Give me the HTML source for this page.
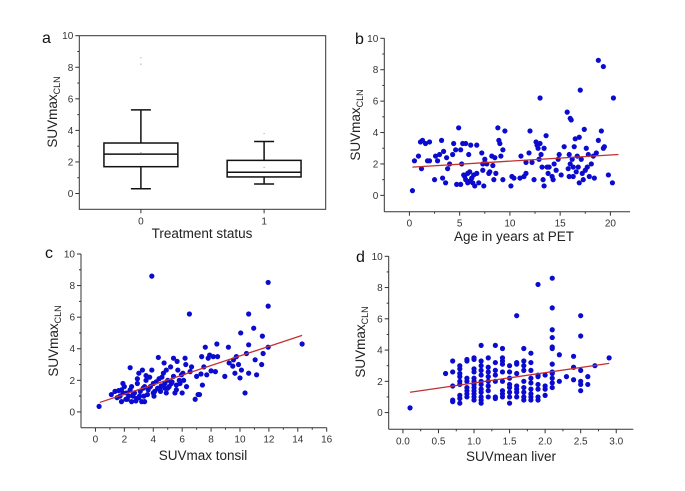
<!DOCTYPE html>
<html><head><meta charset="utf-8">
<style>
html,body{margin:0;padding:0;background:#fff;}
svg{display:block;font-family:"Liberation Sans",Arial,sans-serif;}
</style></head>
<body>
<svg id="fig" width="685" height="491" viewBox="0 0 685 491" xmlns="http://www.w3.org/2000/svg"></svg>
<script>
// ---- Panel a: box plot data ----
const boxCategories = ["0", "1"];
const boxQ1 = [1.7, 1.05];
const boxMedian = [2.5, 1.35];
const boxQ3 = [3.2, 2.1];
const boxWhiskerLow = [0.3, 0.6];
const boxWhiskerHigh = [5.3, 3.3];
const boxMean = [2.6, 1.65];
const boxOutliers = [[8.2, 8.6], [3.8]];

// ---- Panel b: age vs SUVmax CLN ----
const ageX = [0.3,0.5,0.9,1.1,1.3,1.2,1.6,1.8,2.0,2.0,2.5,2.6,3.0,3.2,3.3,3.4,3.6,3.7,3.8,4.0,4.3,4.4,4.6,4.7,4.9,5.1,5.2,5.1,5.3,5.6,5.4,5.6,5.8,5.8,5.9,6.0,6.2,6.1,6.3,6.5,6.7,6.7,6.9,7.2,7.3,7.3,7.4,7.5,7.7,7.9,8.2,8.3,8.4,8.5,8.6,8.8,8.9,9.0,9.1,9.3,9.3,9.5,10.1,10.2,10.4,11.0,11.1,11.4,11.6,11.6,12.0,11.9,12.2,12.4,12.6,12.7,12.8,13.0,12.9,13.1,13.2,13.3,13.4,13.4,13.6,13.7,13.8,13.9,14.2,14.3,14.4,14.6,14.8,14.9,15.1,15.4,15.7,15.8,15.9,15.9,16.0,16.1,16.2,16.3,16.3,16.4,16.5,16.7,16.8,16.9,16.9,17.0,17.1,17.2,17.3,17.4,17.6,17.7,17.8,17.9,18.1,18.3,18.4,18.6,18.8,18.8,19.1,19.3,19.3,19.4,19.8,20.2,20.3,5.5,6.0,6.4,16.0,16.6,17.5,13.0,8.0,2.8];
const ageY = [0.3,2.2,2.5,3.4,3.5,1.7,3.3,2.2,3.4,2.2,1.0,2.5,2.6,3.5,1.1,2.8,0.8,2.4,1.7,2.0,2.6,3.3,2.9,0.7,4.3,0.7,2.0,2.9,3.3,3.3,1.3,1.0,1.4,0.8,2.6,1.5,1.1,3.2,0.8,0.6,3.2,1.4,0.8,2.7,2.0,1.6,0.6,2.3,2.0,1.4,2.5,1.9,1.0,2.4,1.4,4.3,3.5,3.3,2.5,2.9,1.0,4.1,0.6,1.2,1.1,1.1,2.5,1.2,1.4,2.1,4.1,2.7,2.1,1.0,3.4,3.2,3.0,6.2,2.3,2.6,1.8,1.0,0.6,3.0,3.8,1.8,1.4,1.8,1.2,1.0,2.0,1.6,2.3,2.6,1.3,3.1,5.3,1.7,2.6,1.2,4.9,4.8,2.3,1.8,1.2,3.1,3.6,2.5,1.8,0.8,3.7,6.7,2.3,1.4,1.0,4.2,3.0,1.8,2.6,1.2,2.0,2.5,1.1,2.7,8.6,3.5,4.1,8.2,3.0,3.1,1.3,0.8,6.2,1.2,0.9,1.3,2.0,1.5,1.6,3.3,1.5,2.2];
const ageFit = [[0.3, 1.8], [20.8, 2.6]];

// ---- Panel c: SUVmax tonsil ----
const tonsilX = [0.25,1.1,1.35,1.6,1.7,1.8,1.9,2.0,2.15,2.2,2.4,2.4,2.5,2.6,2.7,2.85,2.9,3.0,3.05,3.2,3.25,3.35,3.4,3.5,3.65,3.75,3.9,3.9,4.0,4.05,4.1,4.2,4.35,4.4,4.45,4.55,4.7,4.75,4.8,4.9,4.9,5.0,5.1,5.2,5.25,5.4,5.4,5.5,5.6,5.65,5.7,5.85,5.95,6.0,6.05,6.2,6.25,6.3,6.5,6.55,6.65,6.9,7.0,7.1,7.2,7.35,7.4,7.5,7.6,7.7,7.8,7.9,8.15,8.3,8.4,8.45,8.95,9.2,9.25,9.55,9.65,9.75,9.9,10.0,10.05,10.1,10.35,10.45,10.6,10.6,10.6,10.95,11.05,11.15,11.5,11.55,11.6,11.95,11.95,11.95,14.3,1.5,1.9,2.3,2.5,2.8,3.1,3.3,3.6,3.8,4.3,4.6,5.3,5.8,1.8,2.1,2.6,3.0,3.4,4.0,4.8,5.6,6.1,2.9,3.5,4.5,5.0,7.3,8.0,9.5];
const tonsilY = [0.35,1.1,1.3,1.35,1.0,0.65,1.8,1.6,1.2,0.8,2.8,1.4,0.65,1.0,1.2,0.85,1.8,2.45,1.0,0.65,2.65,1.0,0.65,2.0,1.4,2.2,8.6,2.65,1.8,1.0,1.3,1.9,3.45,2.1,1.4,1.65,2.45,3.1,1.8,1.2,2.65,2.0,1.6,2.85,1.8,2.25,3.4,1.2,1.4,3.2,2.65,1.8,2.35,1.2,2.45,3.4,3.0,1.6,6.2,2.55,2.85,0.8,2.25,1.1,1.1,3.5,1.7,2.85,4.1,2.35,3.4,3.6,3.5,2.55,4.3,3.5,2.25,4.1,3.1,3.3,2.45,3.5,3.0,2.15,5.0,2.65,1.2,3.7,6.2,4.25,2.45,5.3,3.3,2.35,3.0,4.8,3.7,8.2,6.7,4.1,4.3,0.9,1.2,1.0,1.6,0.7,1.3,1.5,1.1,1.6,1.5,2.2,1.9,2.0,1.4,0.8,1.1,0.9,1.6,1.2,1.5,1.7,2.0,2.1,2.3,1.3,1.5,2.4,2.6,2.9,2.6];
const tonsilFit = [[0.3, 0.6], [14.3, 4.85]];

// ---- Panel d: SUVmean liver ----
const liverX = [0.1,0.6,0.7,0.7,0.7,0.7,0.7,0.8,0.8,0.8,0.8,0.8,0.8,0.8,0.8,0.8,0.9,0.9,0.9,0.9,0.9,0.9,0.9,0.9,1.0,1.0,1.0,1.0,1.0,1.0,1.0,1.0,1.0,1.0,1.0,1.0,1.1,1.1,1.1,1.1,1.1,1.1,1.1,1.1,1.1,1.1,1.1,1.1,1.2,1.2,1.2,1.2,1.2,1.2,1.2,1.2,1.3,1.3,1.3,1.3,1.3,1.3,1.3,1.4,1.4,1.4,1.4,1.4,1.4,1.4,1.4,1.4,1.5,1.5,1.5,1.5,1.5,1.5,1.5,1.5,1.6,1.6,1.6,1.6,1.6,1.6,1.6,1.6,1.7,1.7,1.7,1.7,1.7,1.7,1.7,1.7,1.7,1.8,1.8,1.8,1.8,1.8,1.8,1.8,1.8,1.8,1.9,1.9,1.9,1.9,1.9,1.9,1.9,2.0,2.0,2.0,2.0,2.1,2.1,2.1,2.1,2.1,2.1,2.1,2.1,2.1,2.1,2.1,2.1,2.2,2.2,2.3,2.4,2.4,2.4,2.5,2.5,2.5,2.5,2.5,2.5,2.6,2.6,2.7,2.9];
const liverY = [0.3,2.5,3.3,2.6,1.7,0.8,0.7,3.0,2.8,2.5,2.3,2.0,1.8,1.1,0.9,0.6,3.4,3.3,2.2,2.0,1.6,1.4,1.2,1.0,3.5,3.4,2.8,2.6,2.2,2.0,1.8,1.6,1.4,1.2,1.0,0.8,4.3,3.3,3.0,2.7,2.4,2.0,1.8,1.5,1.3,1.0,0.8,0.6,3.5,2.9,2.6,2.3,2.0,1.7,1.4,1.0,4.3,3.2,2.7,2.4,2.0,1.0,0.9,4.1,3.5,3.3,3.1,2.6,2.0,1.4,1.2,1.0,3.0,2.6,2.2,1.8,1.6,1.3,1.0,0.6,6.2,3.2,3.1,2.5,1.7,1.5,1.3,1.0,4.1,3.3,3.0,2.7,2.0,1.6,1.3,1.0,0.8,3.8,3.2,2.7,2.2,1.9,1.5,1.2,1.0,0.8,8.2,2.4,2.3,1.8,1.5,1.0,0.8,2.4,1.7,1.5,1.1,8.6,6.7,5.3,4.8,4.2,4.1,3.1,2.6,2.5,2.2,1.9,1.6,3.7,2.0,2.3,3.6,2.9,2.1,6.2,4.9,2.7,2.0,1.8,1.4,2.3,1.8,3.0,3.5];
const liverFit = [[0.1, 1.3], [2.9, 3.15]];

const NS = "http://www.w3.org/2000/svg";
const svg = document.getElementById("fig");
function mk(tag, attrs, parent, text) {
  const e = document.createElementNS(NS, tag);
  for (const k in attrs) e.setAttribute(k, attrs[k]);
  if (text !== undefined) e.textContent = text;
  (parent || svg).appendChild(e);
  return e;
}
const AX = "#333";
const DOT = "#0b0bd0";
const RED = "#c43030";

function makePanel(p) {
  const g = mk("g", {});
  
  
  const sx = v => p.x0 + (v - p.xmin) / (p.xmax - p.xmin) * (p.x1 - p.x0);
  const sy = v => p.y1 - (v - p.ymin) / (p.ymax - p.ymin) * (p.y1 - p.y0);
  const axes = mk("g", {}, g);
  
  
  if (p.frame) {
    mk("rect", {x: p.x0, y: p.y0, width: p.x1 - p.x0, height: p.y1 - p.y0, fill: "none", stroke: AX, "stroke-width": 1}, axes);
  } else {
    mk("line", {x1: p.x0, y1: p.y0, x2: p.x0, y2: p.y1, stroke: AX, "stroke-width": 1}, axes);
    mk("line", {x1: p.x0, y1: p.y1, x2: p.x1, y2: p.y1, stroke: AX, "stroke-width": 1}, axes);
  }
  for (let v = 0; v <= 10; v += 1) {
    const y = sy(v);
    const major = v % 2 === 0;
    mk("line", {x1: p.x0 - (major ? 4 : 2), y1: y, x2: p.x0, y2: y, stroke: AX, "stroke-width": 1}, axes);
    if (major) {
      const t = mk("text", {x: p.x0 - 6, y: y + 3.5, "text-anchor": "end", "font-size": 10, fill: "#333"}, axes, String(v));
      
      
    }
  }
  p.xticks.forEach((v, i) => {
    const x = sx(v);
    mk("line", {x1: x, y1: p.y1, x2: x, y2: p.y1 + 4, stroke: AX, "stroke-width": 1}, axes);
    const t = mk("text", {x: x, y: p.y1 + 15, "text-anchor": "middle", "font-size": 10, fill: "#333"}, axes, p.xlabels[i]);
    
    
  });
  (p.xminor || []).forEach(v => {
    const x = sx(v);
    mk("line", {x1: x, y1: p.y1, x2: x, y2: p.y1 + 2, stroke: AX, "stroke-width": 1}, axes);
  });
  const xt = mk("text", {x: p.xtx, y: p.xty, "text-anchor": "middle", "font-size": 13.5, fill: "#222"}, g, p.xtitle);
  
  
  const yt = mk("text", {transform: `translate(${p.ytx},${p.yty}) rotate(-90)`, "text-anchor": "middle", "font-size": 13.5, fill: "#222"}, g);
  
  
  mk("tspan", {}, yt, "SUVmax");
  mk("tspan", {"font-size": 9, dy: 3}, yt, "CLN");
  const lb = mk("text", {x: p.lx, y: p.ly, "font-size": 16, fill: "#111"}, g, p.letter);
  
  
  return {g, sx, sy};
}

function scatter(P, xs, ys, fit) {
  const pts = mk("g", {}, P.g);
  
  
  for (let i = 0; i < xs.length; i++) {
    const c = mk("circle", {cx: P.sx(xs[i]), cy: P.sy(ys[i]), r: 2.6, fill: DOT}, pts);
    
    
  }
  const l = mk("line", {x1: P.sx(fit[0][0]), y1: P.sy(fit[0][1]), x2: P.sx(fit[1][0]), y2: P.sy(fit[1][1]), stroke: RED, "stroke-width": 1.3}, P.g);
  
  
}

const A = makePanel({name: "panel-a", frame: true, x0: 79.3, x1: 325.7, y0: 35.7, y1: 209.3, xmin: -0.5, xmax: 1.5, ymin: -1, ymax: 10,
  xticks: [0, 1], xlabels: boxCategories, xtitle: "Treatment status", xtx: 202, xty: 238, ytx: 57, yty: 112, letter: "a", lx: 42, ly: 43});
const boxG = mk("g", {}, A.g);


boxCategories.forEach((c, i) => {
  const cx = A.sx(i), hw = A.sx(i + 0.3) - cx, cap = 10;
  const bg = mk("g", {stroke: "#111", "stroke-width": 1.5, fill: "none"}, boxG);
  
  
  mk("rect", {x: cx - hw, y: A.sy(boxQ3[i]), width: 2 * hw, height: A.sy(boxQ1[i]) - A.sy(boxQ3[i])}, bg);
  mk("line", {x1: cx - hw, x2: cx + hw, y1: A.sy(boxMedian[i]), y2: A.sy(boxMedian[i])}, bg);
  mk("line", {x1: cx, x2: cx, y1: A.sy(boxQ3[i]), y2: A.sy(boxWhiskerHigh[i])}, bg);
  mk("line", {x1: cx, x2: cx, y1: A.sy(boxQ1[i]), y2: A.sy(boxWhiskerLow[i])}, bg);
  mk("line", {x1: cx - cap, x2: cx + cap, y1: A.sy(boxWhiskerHigh[i]), y2: A.sy(boxWhiskerHigh[i])}, bg);
  mk("line", {x1: cx - cap, x2: cx + cap, y1: A.sy(boxWhiskerLow[i]), y2: A.sy(boxWhiskerLow[i])}, bg);
  mk("circle", {cx: cx, cy: A.sy(boxMean[i]), r: 0.6, fill: "#999", stroke: "none"}, boxG);
  boxOutliers[i].forEach(v => {
    const o = mk("circle", {cx: cx, cy: A.sy(v), r: 0.6, fill: "#999"}, boxG);
    
    
  });
});

const B = makePanel({name: "panel-b", x0: 384.3, x1: 630, y0: 38.3, y1: 211.7, xmin: -2.5, xmax: 21.95, ymin: -1.04, ymax: 10,
  xticks: [0, 5, 10, 15, 20], xlabels: ["0", "5", "10", "15", "20"], xminor: [2.5, 7.5, 12.5, 17.5],
  xtitle: "Age in years at PET", xtx: 514, xty: 241, ytx: 360, yty: 125, letter: "b", lx: 355, ly: 44});
scatter(B, ageX, ageY, ageFit);

const C = makePanel({name: "panel-c", x0: 81, x1: 326.7, y0: 254, y1: 427.7, xmin: -1, xmax: 16, ymin: -1, ymax: 10,
  xticks: [0, 2, 4, 6, 8, 10, 12, 14, 16], xlabels: ["0", "2", "4", "6", "8", "10", "12", "14", "16"], xminor: [1, 3, 5, 7, 9, 11, 13, 15],
  xtitle: "SUVmax tonsil", xtx: 203, xty: 460, ytx: 58, yty: 341, letter: "c", lx: 45, ly: 258});
scatter(C, tonsilX, tonsilY, tonsilFit);

const D = makePanel({name: "panel-d", x0: 388.7, x1: 633.3, y0: 256.3, y1: 429.3, xmin: -0.2, xmax: 3.24, ymin: -1.07, ymax: 10,
  xticks: [0, 0.5, 1, 1.5, 2, 2.5, 3], xlabels: ["0.0", "0.5", "1.0", "1.5", "2.0", "2.5", "3.0"], xminor: [0.25, 0.75, 1.25, 1.75, 2.25, 2.75],
  xtitle: "SUVmean liver", xtx: 511, xty: 461, ytx: 365, yty: 342, letter: "d", lx: 356, ly: 262});
scatter(D, liverX, liverY, liverFit);
</script>
</body></html>
